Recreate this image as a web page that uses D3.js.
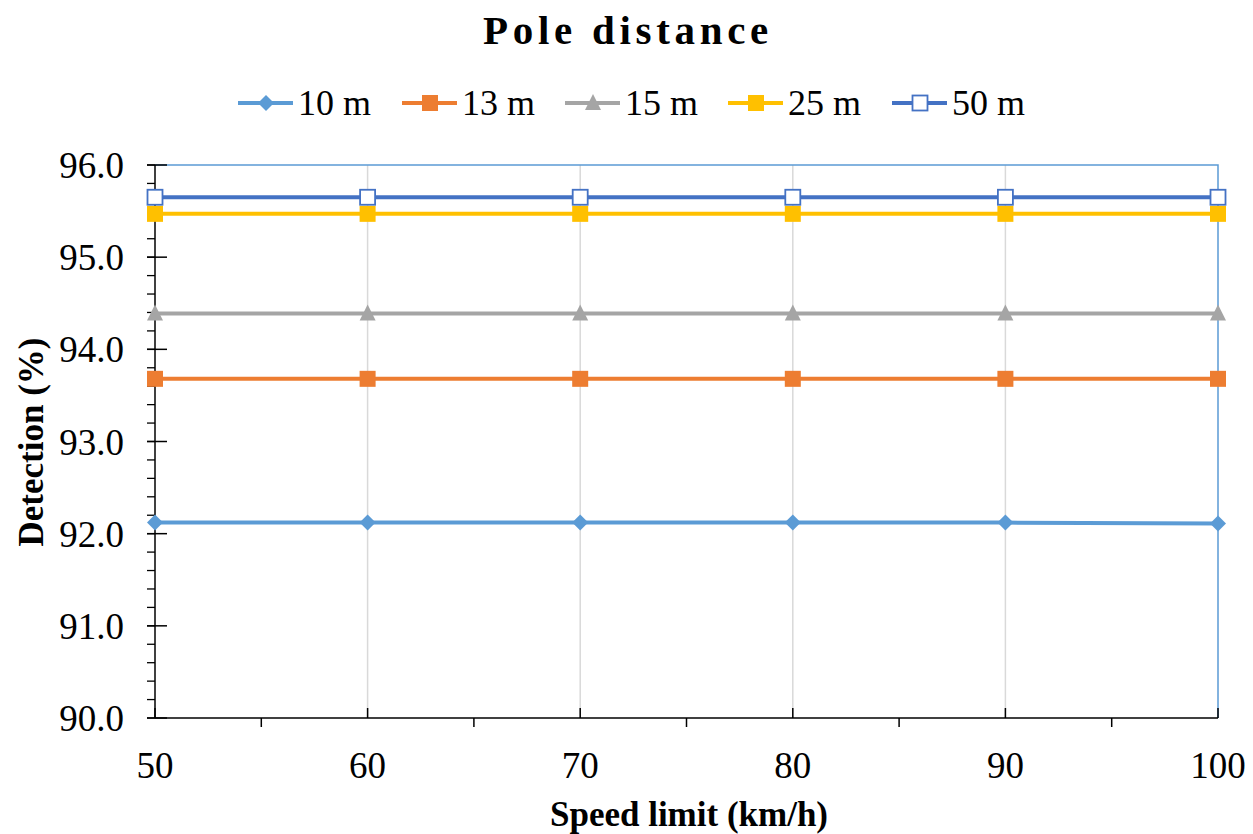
<!DOCTYPE html> <meta charset="utf-8" />
<style>
  body { margin: 0; background: #fff; }
  text { font-family: "Liberation Serif", "Times New Roman", serif; fill: #000; }
  .title { font-size: 41px; font-weight: bold; letter-spacing: 4.7px; }
  .legend { font-size: 36px; }
  .tick-label { font-size: 37px; }
  .axis-title { font-size: 35px; font-weight: bold; }
</style>
<body>
  <script src="https://d3js.org/d3.v7.min.js" charset="utf-8"></script>
  <script>
    // data
    var speeds = [50, 60, 70, 80, 90, 100];
    var names = ["10 m", "13 m", "15 m", "25 m", "50 m"];
    var d10 = [92.12, 92.12, 92.12, 92.12, 92.12, 92.11];
    var d13 = [93.68, 93.68, 93.68, 93.68, 93.68, 93.68];
    var d15 = [94.39, 94.39, 94.39, 94.39, 94.39, 94.39];
    var d25 = [95.47, 95.47, 95.47, 95.47, 95.47, 95.47];
    var d50 = [95.65, 95.65, 95.65, 95.65, 95.65, 95.65];
    var yTicks = [90, 91, 92, 93, 94, 95, 96];
    var colors = ["#5B9BD5", "#ED7D31", "#A5A5A5", "#FFC000", "#4472C4"];
    var shapes = ["diamond", "square", "triangle", "square", "open"];

    var series = [d10, d13, d15, d25, d50].map(function(v, i) {
      return { name: names[i], values: v, color: colors[i], shape: shapes[i] };
    });

    var width = 1253,
      height = 834;
    // plot area edges
    var pLeft = 155, pRight = 1218, pTop = 165, pBottom = 718;

    var svg = d3.select("body").append("svg")
      .attr("width", width)
      .attr("height", height);

    var x = d3.scaleLinear().domain([50, 100]).range([pLeft, pRight]);
    var y = d3.scaleLinear().domain([90, 96]).range([pBottom, pTop]);

    // vertical gridlines
    svg.selectAll(".grid")
      .data(speeds.slice(1, -1))
      .enter().append("line")
      .attr("x1", d => x(d)).attr("x2", d => x(d))
      .attr("y1", pTop).attr("y2", pBottom)
      .style("stroke", "#d9d9d9").style("stroke-width", 1.5);

    // plot frame (top and right)
    svg.append("path")
      .attr("d", "M" + pLeft + "," + pTop + "H" + pRight + "V" + pBottom)
      .style("fill", "none").style("stroke", "#5B9BD5").style("stroke-width", 1.5);

    // y axis
    var yAxis = svg.append("g");
    yAxis.append("line")
      .attr("x1", pLeft).attr("x2", pLeft).attr("y1", pTop).attr("y2", pBottom)
      .style("stroke", "#000").style("stroke-width", 1.5);
    var minor = d3.range(90, 96.001, 0.2);
    yAxis.selectAll(".ymin").data(minor).enter().append("line")
      .attr("x1", pLeft - 8).attr("x2", pLeft)
      .attr("y1", d => y(d)).attr("y2", d => y(d))
      .style("stroke", "#000").style("stroke-width", 1.3);
    yAxis.selectAll(".ymaj").data(yTicks).enter().append("line")
      .attr("x1", pLeft - 8).attr("x2", pLeft + 12)
      .attr("y1", d => y(d)).attr("y2", d => y(d))
      .style("stroke", "#000").style("stroke-width", 1.5);
    yAxis.selectAll(".ylab").data(yTicks).enter().append("text")
      .attr("class", "tick-label")
      .attr("x", 124).attr("y", d => y(d) + 13)
      .attr("text-anchor", "end")
      .text(d => d3.format(".1f")(d));

    // x axis
    var xAxis = svg.append("g");
    xAxis.append("line")
      .attr("x1", pLeft).attr("x2", pRight).attr("y1", pBottom).attr("y2", pBottom)
      .style("stroke", "#000").style("stroke-width", 1.5);
    xAxis.selectAll(".xmaj").data(speeds).enter().append("line")
      .attr("x1", d => x(d)).attr("x2", d => x(d))
      .attr("y1", pBottom - 10).attr("y2", pBottom)
      .style("stroke", "#000").style("stroke-width", 1.5);
    xAxis.selectAll(".xmin").data(d3.range(55, 100, 10)).enter().append("line")
      .attr("x1", d => x(d)).attr("x2", d => x(d))
      .attr("y1", pBottom).attr("y2", pBottom + 9)
      .style("stroke", "#000").style("stroke-width", 1.5);
    xAxis.selectAll(".xlab").data(speeds).enter().append("text")
      .attr("class", "tick-label")
      .attr("x", d => x(d)).attr("y", 778)
      .attr("text-anchor", "middle")
      .text(d => d);

    // marker drawing
    function marker(g, s, cx, cy) {
      if (s.shape == "diamond") {
        g.append("path")
          .attr("d", "M" + cx + "," + (cy - 8) + "L" + (cx + 8) + "," + cy +
            "L" + cx + "," + (cy + 8) + "L" + (cx - 8) + "," + cy + "Z")
          .style("fill", s.color);
      } else if (s.shape == "square") {
        g.append("rect")
          .attr("x", cx - 8).attr("y", cy - 8).attr("width", 16).attr("height", 16)
          .style("fill", s.color);
      } else if (s.shape == "triangle") {
        g.append("path")
          .attr("d", "M" + cx + "," + (cy - 9) + "L" + (cx + 8) + "," + (cy + 7) +
            "L" + (cx - 8) + "," + (cy + 7) + "Z")
          .style("fill", s.color);
      } else {
        g.append("rect")
          .attr("x", cx - 7.5).attr("y", cy - 7.5).attr("width", 15).attr("height", 15)
          .style("fill", "#fff").style("stroke", s.color).style("stroke-width", 1.8);
      }
    }

    var line = d3.line()
      .x((d, i) => x(speeds[i]))
      .y(d => y(d));

    series.forEach(function(s) {
      var g = svg.append("g");
      g.append("path")
        .attr("d", line(s.values))
        .style("fill", "none")
        .style("stroke", s.color)
        .style("stroke-width", 4);
      s.values.forEach(function(v, i) {
        marker(g, s, x(speeds[i]), y(v));
      });
    });

    // title
    svg.append("text")
      .attr("class", "title")
      .attr("x", 628).attr("y", 44)
      .attr("text-anchor", "middle")
      .text("Pole distance");

    // legend
    var legendX = [238, 402, 565, 728, 892];
    series.forEach(function(s, i) {
      var g = svg.append("g");
      var lx = legendX[i];
      g.append("line")
        .attr("x1", lx).attr("x2", lx + 55).attr("y1", 103).attr("y2", 103)
        .style("stroke", s.color).style("stroke-width", 4);
      marker(g, s, lx + 28, 103);
      g.append("text")
        .attr("class", "legend")
        .attr("x", lx + 60).attr("y", 115)
        .text(s.name);
    });

    // axis titles
    svg.append("text")
      .attr("class", "axis-title")
      .attr("x", 689).attr("y", 826)
      .attr("text-anchor", "middle")
      .text("Speed limit (km/h)");
    svg.append("text")
      .attr("class", "axis-title")
      .attr("transform", "translate(43,442) rotate(-90)")
      .attr("text-anchor", "middle")
      .text("Detection (%)");
  </script>
</body>
